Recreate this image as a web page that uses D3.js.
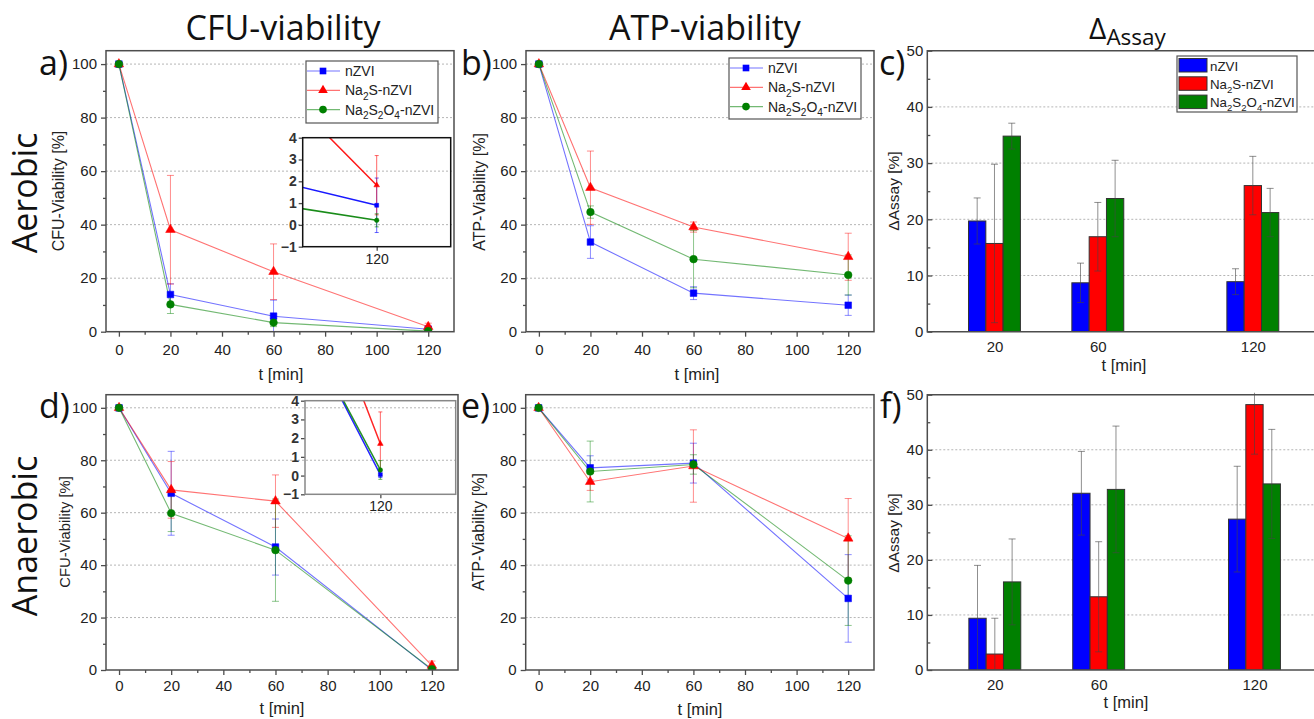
<!DOCTYPE html>
<html><head><meta charset="utf-8">
<script src="https://cdn.jsdelivr.net/npm/d3@7"></script>
<style>body{margin:0;background:#fff} svg{display:block}</style>
</head><body><svg id="chart" width="1314" height="719"></svg>
<script>
// ---------------- DATA ----------------
const times = [0, 20, 60, 120];
const barTimes = [20, 60, 120];
const seriesNames = ["nZVI", "Na2S-nZVI", "Na2S2O4-nZVI"];
const seriesColors = ["#0000ff", "#ff0000", "#008000"];
const yTicksLine = [0, 20, 40, 60, 80, 100];
const yMinorLine = [10, 30, 50, 70, 90];
const xTicksLine = [0, 20, 40, 60, 80, 100, 120];
const xMinorLine = [10, 30, 50, 70, 90, 110];
const yTicksBar = [0, 10, 20, 30, 40, 50];
const yMinorBar = [5, 15, 25, 35, 45];
const insetYTicks = [-1, 0, 1, 2, 3, 4];
const insetXTicks = [120];

// a) CFU, aerobic
const cfuAer_nZVI = [100, 13.9, 5.8, 0.9];
const cfuAer_nZVI_err = [0.6, 4.0, 6.0, 1.25];
const cfuAer_Na2S = [100, 38.1, 22.4, 1.82];
const cfuAer_Na2S_err = [0.6, 20.3, 10.4, 1.36];
const cfuAer_Na2S2O4 = [100, 10.2, 3.4, 0.21];
const cfuAer_Na2S2O4_err = [0.6, 3.4, 1.5, 0.3];

// b) ATP, aerobic
const atpAer_nZVI = [100, 33.5, 14.4, 9.9];
const atpAer_nZVI_err = [0.6, 6.1, 2.4, 3.8];
const atpAer_Na2S = [100, 53.8, 39.1, 28.0];
const atpAer_Na2S_err = [0.6, 13.7, 1.9, 8.8];
const atpAer_Na2S2O4 = [100, 44.7, 27.1, 21.2];
const atpAer_Na2S2O4_err = [0.6, 2.3, 10.7, 7.5];

// c) Delta assay, aerobic
const dAer_nZVI = [19.7, 8.7, 8.9];
const dAer_nZVI_err = [4.1, 3.5, 2.3];
const dAer_Na2S = [15.7, 16.9, 26.0];
const dAer_Na2S_err = [14.1, 6.1, 5.2];
const dAer_Na2S2O4 = [34.8, 23.7, 21.2];
const dAer_Na2S2O4_err = [2.3, 6.8, 4.3];

// d) CFU, anaerobic
const cfuAna_nZVI = [100, 67.4, 46.9, 0.05];
const cfuAna_nZVI_err = [0.6, 16.0, 10.7, 0.15];
const cfuAna_Na2S = [100, 68.7, 64.4, 1.7];
const cfuAna_Na2S_err = [0.6, 10.8, 10.0, 1.7];
const cfuAna_Na2S2O4 = [100, 59.8, 45.7, 0.3];
const cfuAna_Na2S2O4_err = [0.6, 7.0, 19.5, 0.5];

// e) ATP, anaerobic
const atpAna_nZVI = [100, 77.1, 78.9, 27.3];
const atpAna_nZVI_err = [0.6, 4.6, 7.6, 16.7];
const atpAna_Na2S = [100, 71.8, 77.8, 50.2];
const atpAna_Na2S_err = [0.6, 3.3, 13.8, 15.2];
const atpAna_Na2S2O4 = [100, 75.7, 78.4, 34.1];
const atpAna_Na2S2O4_err = [0.6, 11.6, 3.7, 17.1];

// f) Delta assay, anaerobic
const dAna_nZVI = [9.4, 32.1, 27.4];
const dAna_nZVI_err = [9.6, 7.6, 9.6];
const dAna_Na2S = [2.9, 13.3, 48.2];
const dAna_Na2S_err = [6.5, 10.0, 9.0];
const dAna_Na2S2O4 = [16.0, 32.8, 33.8];
const dAna_Na2S2O4_err = [7.8, 11.5, 9.9];

// ---------------- DRAWING ----------------
const svg = d3.select("#chart");
const TICKFONT = "Liberation Sans, Arial, sans-serif";
const BIGFONT = "Open Sans, Noto Sans, sans-serif";
const FRAME = "#4d4d4d";
let clipId = 0;

function mk(vals, errs) { return times.map((t, i) => ({t, v: vals[i], e: errs[i]})); }
function mkBar(vals, errs) { return barTimes.map((t, i) => ({t, v: vals[i], e: errs[i]})); }

function richText(sel, str, fs) {
  const parts = str.match(/(\d+|\D+)/g);
  let shifted = false;
  parts.forEach(p => {
    const isNum = /^\d+$/.test(p);
    const t = sel.append("tspan").text(p);
    if (isNum) {
      t.attr("font-size", fs * 0.72);
      if (!shifted) t.attr("dy", fs * 0.3);
      shifted = true;
    } else if (shifted) {
      t.attr("dy", -fs * 0.3);
      shifted = false;
    }
  });
}

const symbolTypes = [d3.symbolSquare, d3.symbolTriangle, d3.symbolCircle];
const symbolSizes = [44, 40, 46];

function addClip(x, y, w, h) {
  const id = "clip" + (clipId++);
  svg.append("clipPath").attr("id", id).append("rect")
    .attr("x", x).attr("y", y).attr("width", w).attr("height", h);
  return id;
}

function styleAxis(g, fs) {
  g.select(".domain").remove();
  g.selectAll(".tick line").attr("stroke", FRAME).attr("stroke-width", 1.3);
  g.selectAll(".tick text").attr("font-family", TICKFONT).attr("font-size", fs).attr("fill", "#222");
}

function drawSeries(g, x, y, series, opts) {
  series.forEach((s, si) => {
    const col = seriesColors[si];
    const line = d3.line().x(d => x(d.t)).y(d => y(d.v));
    g.append("path").datum(s).attr("d", line).attr("fill", "none")
      .attr("stroke", col).attr("stroke-width", opts.lw).attr("stroke-opacity", opts.lineOp);
    s.forEach(d => {
      const eg = g.append("g").attr("stroke", col).attr("stroke-opacity", opts.errOp).attr("stroke-width", 1);
      eg.append("line").attr("x1", x(d.t)).attr("x2", x(d.t)).attr("y1", y(d.v + d.e)).attr("y2", y(d.v - d.e));
      [d.v + d.e, d.v - d.e].forEach(v => {
        eg.append("line").attr("x1", x(d.t) - opts.cap).attr("x2", x(d.t) + opts.cap).attr("y1", y(v)).attr("y2", y(v));
      });
    });
  });
  series.forEach((s, si) => {
    const col = seriesColors[si];
    g.selectAll(null).data(s).enter().append("path")
      .attr("d", d3.symbol().type(symbolTypes[si]).size(symbolSizes[si] * opts.msz))
      .attr("transform", d => `translate(${x(d.t)},${y(d.v)})`)
      .attr("fill", col).attr("stroke", col).attr("stroke-width", 0.5);
  });
}

function linePanel(c) {
  const x = d3.scaleLinear().domain([-5, 130]).range([c.L, c.R]);
  const y = d3.scaleLinear().domain([0, 105]).range([c.B, c.T]);
  const g = svg.append("g");
  g.selectAll(null).data(yTicksLine.filter(v => v > 0)).enter().append("line")
    .attr("x1", c.L).attr("x2", c.R).attr("y1", d => y(d)).attr("y2", d => y(d))
    .attr("stroke", "#b5b5b5").attr("stroke-dasharray", "2,2").attr("stroke-width", 1);
  const ya = g.append("g").attr("transform", `translate(${c.L},0)`)
    .call(d3.axisLeft(y).tickValues(yTicksLine).tickSize(5).tickPadding(4).tickFormat(d3.format("d")));
  styleAxis(ya, 15);
  const ym = g.append("g").attr("transform", `translate(${c.L},0)`)
    .call(d3.axisLeft(y).tickValues(yMinorLine).tickSize(3).tickFormat(""));
  styleAxis(ym, 15);
  const xa = g.append("g").attr("transform", `translate(0,${c.B})`)
    .call(d3.axisBottom(x).tickValues(xTicksLine).tickSize(5).tickPadding(c.xPad).tickFormat(d3.format("d")));
  styleAxis(xa, 15);
  const xm = g.append("g").attr("transform", `translate(0,${c.B})`)
    .call(d3.axisBottom(x).tickValues(xMinorLine).tickSize(3).tickFormat(""));
  styleAxis(xm, 15);
  const cid = addClip(c.L, c.T, c.R - c.L, c.B - c.T);
  const sg = g.append("g").attr("clip-path", `url(#${cid})`);
  drawSeries(sg, x, y, c.series, {lw: 1.1, lineOp: 0.55, errOp: 0.45, cap: 3.5, msz: 1});
  g.append("rect").attr("x", c.L).attr("y", c.T).attr("width", c.R - c.L).attr("height", c.B - c.T)
    .attr("fill", "none").attr("stroke", FRAME).attr("stroke-width", 1.5);
  g.append("text").attr("transform", `translate(${c.ylx},${c.yly}) rotate(-90)`)
    .attr("text-anchor", "middle").attr("font-family", TICKFONT).attr("font-size", c.ylfs).attr("fill", "#222")
    .text(c.ylabel);
  g.append("text").attr("x", c.xlx).attr("y", c.xly).attr("text-anchor", "middle")
    .attr("font-family", TICKFONT).attr("font-size", 16.5).attr("fill", "#222").text("t [min]");
  g.append("text").attr("x", c.letterX).attr("y", c.letterY).attr("font-family", BIGFONT)
    .attr("font-size", 34).attr("fill", "#111").text(c.letter);
  if (c.legend) {
    const lg = c.legend;
    g.append("rect").attr("x", lg.x).attr("y", lg.y).attr("width", lg.w).attr("height", lg.h)
      .attr("fill", "#fff").attr("stroke", "#555").attr("stroke-width", 1.2);
    seriesNames.forEach((n, i) => {
      const cy = lg.y + 10 + i * 19.3;
      g.append("line").attr("x1", lg.x + 1).attr("x2", lg.x + 34).attr("y1", cy).attr("y2", cy)
        .attr("stroke", seriesColors[i]).attr("stroke-opacity", 0.55).attr("stroke-width", 1.2);
      g.append("path").attr("d", d3.symbol().type(symbolTypes[i]).size(symbolSizes[i]))
        .attr("transform", `translate(${lg.x + 17},${cy})`).attr("fill", seriesColors[i]);
      const t = g.append("text").attr("x", lg.x + 39).attr("y", cy + 5).attr("font-family", TICKFONT)
        .attr("font-size", 14).attr("fill", "#222");
      richText(t, n, 14);
    });
  }
  if (c.inset) {
    const ins = c.inset;
    const ix = d3.scaleLinear().domain([110, 130]).range([ins.L, ins.R]);
    const iy = d3.scaleLinear().domain([-1, 4]).range([ins.B, ins.T]);
    const ia = g.append("g").attr("transform", `translate(${ins.L},0)`)
      .call(d3.axisLeft(iy).tickValues(insetYTicks).tickSize(4).tickPadding(2).tickFormat(d3.format("d")));
    styleAxis(ia, 14);
    ia.selectAll(".tick text").attr("font-weight", "bold").attr("fill", "#333");
    const ib = g.append("g").attr("transform", `translate(0,${ins.B})`)
      .call(d3.axisBottom(ix).tickValues(insetXTicks).tickSize(4).tickPadding(ins.xPad).tickFormat(d3.format("d")));
    styleAxis(ib, 14);
    const icid = addClip(ins.L, ins.T, ins.R - ins.L, ins.B - ins.T);
    const isg = g.append("g").attr("clip-path", `url(#${icid})`);
    drawSeries(isg, ix, iy, c.series, {lw: 1.5, lineOp: ins.lineOp, errOp: 0.6, cap: 2, msz: 0.35});
    g.append("rect").attr("x", ins.L).attr("y", ins.T).attr("width", ins.R - ins.L).attr("height", ins.B - ins.T)
      .attr("fill", "none").attr("stroke", ins.stroke).attr("stroke-width", 1.5);
  }
}

function barPanel(c) {
  const x = d3.scaleLinear().domain([-6, 146]).range([c.L, c.R]);
  const y = d3.scaleLinear().domain([0, 50]).range([c.B, c.T]);
  const g = svg.append("g");
  const bw = 17.3;
  g.selectAll(null).data(yTicksBar.filter(v => v > 0 && v < 50)).enter().append("line")
    .attr("x1", c.L).attr("x2", c.R).attr("y1", d => y(d)).attr("y2", d => y(d))
    .attr("stroke", "#b5b5b5").attr("stroke-dasharray", "2,2").attr("stroke-width", 1);
  const ya = g.append("g").attr("transform", `translate(${c.L},0)`)
    .call(d3.axisLeft(y).tickValues(yTicksBar).tickSize(-5).tickPadding(4).tickFormat(d3.format("d")));
  styleAxis(ya, 15);
  const ym = g.append("g").attr("transform", `translate(${c.L},0)`)
    .call(d3.axisLeft(y).tickValues(yMinorBar).tickSize(-3).tickFormat(""));
  styleAxis(ym, 15);
  const xa = g.append("g").attr("transform", `translate(0,${c.B})`)
    .call(d3.axisBottom(x).tickValues(barTimes).tickSize(0).tickPadding(c.xPad).tickFormat(d3.format("d")));
  styleAxis(xa, 15);
  const cid = addClip(c.L, c.T - 2, c.R - c.L, c.B - c.T + 2);
  const bg = g.append("g").attr("clip-path", `url(#${cid})`);
  c.series.forEach((s, si) => {
    s.forEach(d => {
      const cx = x(d.t) + (si - 1) * bw;
      bg.append("rect").attr("x", cx - bw / 2).attr("y", y(d.v)).attr("width", bw).attr("height", y(0) - y(d.v))
        .attr("fill", seriesColors[si]).attr("stroke", "#333").attr("stroke-width", 1);
    });
  });
  c.series.forEach((s, si) => {
    s.forEach(d => {
      const cx = x(d.t) + (si - 1) * bw;
      const eg = bg.append("g").attr("stroke", "#444").attr("stroke-opacity", 0.6).attr("stroke-width", 1);
      eg.append("line").attr("x1", cx).attr("x2", cx).attr("y1", y(d.v + d.e)).attr("y2", y(d.v - d.e));
      [d.v + d.e, d.v - d.e].forEach(v => eg.append("line").attr("x1", cx - 3.5).attr("x2", cx + 3.5).attr("y1", y(v)).attr("y2", y(v)));
    });
  });
  g.append("path").attr("d", `M${c.R},${c.T}H${c.L}V${c.B}H${c.R}`).attr("fill", "none")
    .attr("stroke", FRAME).attr("stroke-width", 1.5);
  g.append("text").attr("transform", `translate(${c.ylx},${c.yly}) rotate(-90)`)
    .attr("text-anchor", "middle").attr("font-family", TICKFONT).attr("font-size", 15.5).attr("fill", "#222")
    .text("\u0394Assay [%]");
  g.append("text").attr("x", c.xlx).attr("y", c.xly).attr("text-anchor", "middle")
    .attr("font-family", TICKFONT).attr("font-size", 16.5).attr("fill", "#222").text("t [min]");
  g.append("text").attr("x", c.letterX).attr("y", c.letterY).attr("font-family", BIGFONT)
    .attr("font-size", 34).attr("fill", "#111").text(c.letter);
  if (c.legend) {
    const lg = c.legend;
    g.append("rect").attr("x", lg.x).attr("y", lg.y).attr("width", lg.w).attr("height", lg.h)
      .attr("fill", "#fff").attr("stroke", "#555").attr("stroke-width", 1.2);
    seriesNames.forEach((n, i) => {
      const top = lg.y + 2.5 + i * 18.3;
      g.append("rect").attr("x", lg.x + 2).attr("y", top).attr("width", 28).attr("height", 13.5)
        .attr("fill", seriesColors[i]).attr("stroke", "#333").attr("stroke-width", 1);
      const t = g.append("text").attr("x", lg.x + 33).attr("y", top + 12).attr("font-family", TICKFONT)
        .attr("font-size", 13.3).attr("fill", "#222");
      richText(t, n, 13.3);
    });
  }
}

// Titles
svg.append("text").attr("x", 283).attr("y", 40).attr("text-anchor", "middle").attr("font-family", BIGFONT)
  .attr("font-size", 34).attr("fill", "#111").text("CFU-viability");
svg.append("text").attr("x", 705).attr("y", 40).attr("text-anchor", "middle").attr("font-family", BIGFONT)
  .attr("font-size", 34).attr("fill", "#111").text("ATP-viability");
const dt = svg.append("text").attr("x", 1089).attr("y", 39).attr("font-family", BIGFONT).attr("fill", "#111");
dt.append("tspan").attr("font-size", 30).text("\u0394");
dt.append("tspan").attr("font-size", 22.5).attr("dy", 6).text("Assay");
svg.append("text").attr("transform", "translate(37,193) rotate(-90)").attr("text-anchor", "middle")
  .attr("font-family", BIGFONT).attr("font-size", 34).attr("fill", "#111").text("Aerobic");
svg.append("text").attr("transform", "translate(37,536) rotate(-90)").attr("text-anchor", "middle")
  .attr("font-family", BIGFONT).attr("font-size", 34).attr("fill", "#111").text("Anaerobic");

linePanel({
  L: 106, R: 454, T: 50.7, B: 331.7, xPad: 8,
  series: [mk(cfuAer_nZVI, cfuAer_nZVI_err), mk(cfuAer_Na2S, cfuAer_Na2S_err), mk(cfuAer_Na2S2O4, cfuAer_Na2S2O4_err)],
  ylabel: "CFU-Viability [%]", ylx: 64, yly: 191, ylfs: 16, xlx: 281, xly: 380,
  letter: "a)", letterX: 39, letterY: 75,
  legend: {x: 306, y: 61, w: 132, h: 62},
  inset: {L: 302.7, R: 450.7, T: 137.7, B: 246.7, xPad: 3, stroke: "#111", lineOp: 0.9}
});
linePanel({
  L: 526, R: 874, T: 50.7, B: 331.7, xPad: 8,
  series: [mk(atpAer_nZVI, atpAer_nZVI_err), mk(atpAer_Na2S, atpAer_Na2S_err), mk(atpAer_Na2S2O4, atpAer_Na2S2O4_err)],
  ylabel: "ATP-Viability [%]", ylx: 485, yly: 192, ylfs: 16, xlx: 697, xly: 380,
  letter: "b)", letterX: 461, letterY: 75,
  legend: {x: 729, y: 58, w: 132, h: 61}
});
linePanel({
  L: 106, R: 458, T: 394.7, B: 670, xPad: 5,
  series: [mk(cfuAna_nZVI, cfuAna_nZVI_err), mk(cfuAna_Na2S, cfuAna_Na2S_err), mk(cfuAna_Na2S2O4, cfuAna_Na2S2O4_err)],
  ylabel: "CFU-Viability [%]", ylx: 70, yly: 532, ylfs: 14.8, xlx: 282, xly: 714,
  letter: "d)", letterX: 39, letterY: 418,
  inset: {L: 305, R: 455.7, T: 400.7, B: 494.3, xPad: 3, stroke: "#888", lineOp: 0.85}
});
linePanel({
  L: 525.7, R: 874, T: 394.7, B: 670, xPad: 5,
  series: [mk(atpAna_nZVI, atpAna_nZVI_err), mk(atpAna_Na2S, atpAna_Na2S_err), mk(atpAna_Na2S2O4, atpAna_Na2S2O4_err)],
  ylabel: "ATP-Viability [%]", ylx: 484, yly: 532, ylfs: 16, xlx: 700, xly: 715,
  letter: "e)", letterX: 461, letterY: 418
});
barPanel({
  L: 927.3, R: 1320, T: 50.7, B: 331.7, xPad: 10,
  series: [mkBar(dAer_nZVI, dAer_nZVI_err), mkBar(dAer_Na2S, dAer_Na2S_err), mkBar(dAer_Na2S2O4, dAer_Na2S2O4_err)],
  ylx: 899, yly: 191, xlx: 1124, xly: 371,
  letter: "c)", letterX: 879, letterY: 75,
  legend: {x: 1177, y: 56, w: 120, h: 56}
});
barPanel({
  L: 927.3, R: 1322, T: 394.7, B: 670, xPad: 9,
  series: [mkBar(dAna_nZVI, dAna_nZVI_err), mkBar(dAna_Na2S, dAna_Na2S_err), mkBar(dAna_Na2S2O4, dAna_Na2S2O4_err)],
  ylx: 899, yly: 533, xlx: 1126, xly: 708,
  letter: "f)", letterX: 880, letterY: 418
});
</script>
</body></html>
